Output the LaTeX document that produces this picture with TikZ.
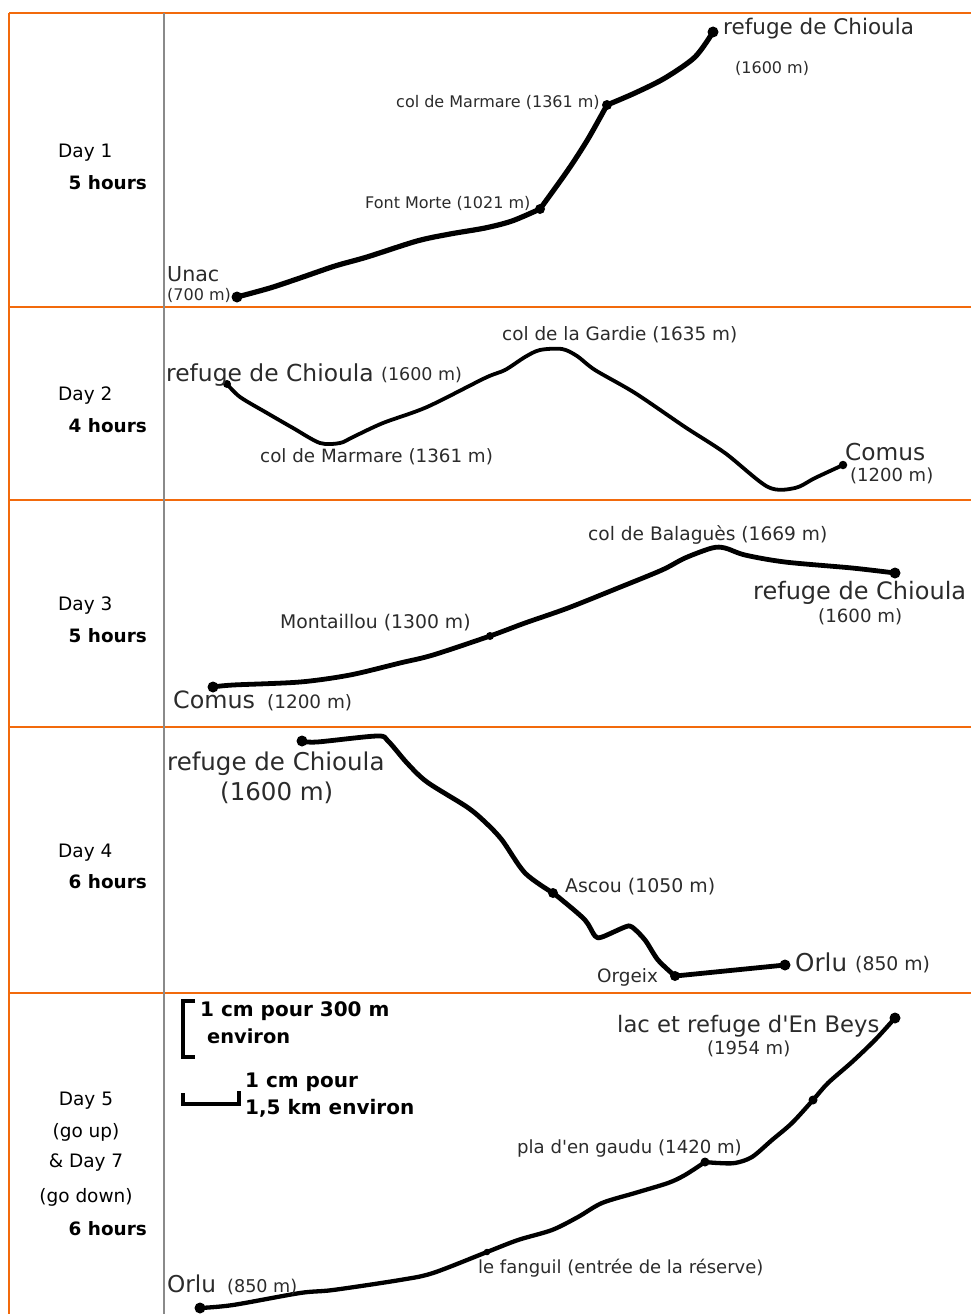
\documentclass[tikz,border=0pt]{standalone}
\usepackage{fontspec}
\setmainfont{DejaVu Sans}
\usepackage{tikz}
\usetikzlibrary{positioning}
\definecolor{rule}{HTML}{F26A0C}
\definecolor{colsep}{HTML}{8A8A8A}
\definecolor{mapink}{HTML}{2B2B2B}
\newcommand{\fs}[1]{\fontsize{#1}{#1}\selectfont}
\tikzset{
  grid/.style={draw=rule,line width=2pt},
  sep/.style={draw=colsep,line width=1.8pt},
  day/.style={inner sep=0pt,anchor=base west,font=\fs{18.5},text=black},
  hrs/.style={inner sep=0pt,anchor=base east,font=\fs{18.4}\bfseries,text=black},
  lbl/.style={inner sep=0pt,anchor=base west,text=mapink},
  spot/.style={circle,fill=black,inner sep=0pt,minimum size=#1},
  spot/.default=10pt,
  trail/.style={draw=black,line width=#1,line cap=round,line join=round},
  scl/.style={inner sep=0pt,anchor=base west,font=\fs{20}\bfseries,text=black},
}

\begin{document}
\begin{tikzpicture}[x=1pt,y=-1pt]
  \useasboundingbox (0,0) rectangle (971,1314);
  % table rules
  \foreach \y in {13,307,500,727,993} \draw[grid] (9,\y) -- (971,\y);
  \draw[grid] (9,13) -- (9,1314);
  \draw[sep] (164,13) -- (164,1314);

  % left column
  \node[day] (d1) at (58,157) {Day 1};
  \node[hrs] (h1) at (147,189) {5 hours};
  \node[day] (d2) at (58,400) {Day 2};
  \node[hrs] (h2) at (147,432) {4 hours};
  \node[day] (d3) at (58,610) {Day 3};
  \node[hrs] (h3) at (147,642) {5 hours};
  \node[day] (d4) at (58,857) {Day 4};
  \node[hrs] (h4) at (147,888) {6 hours};
  \node[day,anchor=base] (d5) at (86,1105) {Day 5};
  \node[day,anchor=base] (up5) at (86,1137) {(go up)};
  \node[day,anchor=base] (d7) at (86,1167) {\& Day 7};
  \node[day,anchor=base] (dn7) at (86,1202) {(go down)};
  \node[hrs] (h5) at (147,1235) {6 hours};

  % day 1
  \node[spot=11pt] (unac) at (237,297) {};
  \node[spot=10pt] (fontm) at (540,209) {};
  \node[spot=10pt] (marm) at (607,105) {};
  \node[spot=11pt] (chio1) at (713,32) {};
  \draw[trail=5.2pt] plot[smooth,tension=0.5] coordinates {(unac.center) (270,288) (300,278) (335,266) (367,257) (417,241) (450,234) (485,228) (512,221) (fontm.center)};
  \draw[trail=5.2pt] plot[smooth,tension=0.5] coordinates {(fontm.center) (568,170) (588,139) (marm.center)};
  \draw[trail=5.2pt] plot[smooth,tension=0.5] coordinates {(marm.center) (635,93) (665,78) (695,57) (chio1.center)};
  \node[lbl,font=\fs{20.6}] (unacN) at (167,281) {Unac};
  \node[lbl,font=\fs{16}] (unacA) at (167,300) {(700 m)};
  \node[lbl,font=\fs{16}] (fontmN) at (365,208) {Font Morte (1021 m)};
  \node[lbl,font=\fs{16}] (marmN) at (396,107) {col de Marmare (1361 m)};
  \node[lbl,font=\fs{21.5}] (chio1N) at (723,35) {refuge de Chioula};
  \node[lbl,font=\fs{16}] (chio1A) at (735,74) {(1600 m)};

  % day 2
  \node[spot=8pt] (chio2) at (227,384) {};
  \node[spot=8.5pt] (comus2) at (843,465) {};
  \draw[trail=3.8pt] plot[smooth,tension=0.5] coordinates {(chio2.center) (240,397) (267,413) (293,428) (320,443) (340,443) (353,437) (383,423) (427,407) (485,378) (505,370) (525,357) (540,350) (562,349) (577,356) (595,370) (635,393) (685,427) (725,453) (768,487) (795,488) (815,478) (comus2.center)};
  \node[lbl,font=\fs{23.4}] (chio2N) at (166,381) {refuge de Chioula};
  \node[lbl,font=\fs{17.5}] (chio2A) at (381,380) {(1600 m)};
  \node[lbl,font=\fs{18.4}] (gardN) at (502,340) {col de la Gardie (1635 m)};
  \node[lbl,font=\fs{18.3}] (marm2N) at (260,462) {col de Marmare (1361 m)};
  \node[lbl,font=\fs{23.3}] (comus2N) at (845,460) {Comus};
  \node[lbl,font=\fs{18}] (comus2A) at (850,481) {(1200 m)};

  % day 3
  \node[spot=11pt] (comus3) at (213,687) {};
  \node[spot=8pt] (mont) at (490,636) {};
  \node[spot=11pt] (chio3) at (895,573) {};
  \draw[trail=4.8pt] plot[smooth,tension=0.5] coordinates {(comus3.center) (233,685) (300,682) (350,675) (400,663) (433,655) (mont.center) (525,623) (568,608) (618,588) (662,570) (685,558) (712,548) (725,548) (745,555) (785,562) (852,568) (chio3.center)};
  \node[lbl,font=\fs{18.6}] (balaN) at (588,540) {col de Balaguès (1669 m)};
  \node[lbl,font=\fs{24}] (chio3N) at (753,599) {refuge de Chioula};
  \node[lbl,font=\fs{18.2}] (chio3A) at (818,622) {(1600 m)};
  \node[lbl,font=\fs{18.8}] (montN) at (280,628) {Montaillou (1300 m)};
  \node[lbl,font=\fs{23.8}] (comus3N) at (173,708) {Comus};
  \node[lbl,font=\fs{18.4}] (comus3A) at (267,708) {(1200 m)};

  % day 4
  \node[spot=11pt] (chio4) at (302,741) {};
  \node[spot=10pt] (ascou) at (553,893) {};
  \node[spot=10pt] (orgeix) at (675,976) {};
  \node[spot=11pt] (orlu4) at (785,965) {};
  \draw[trail=4.8pt] plot[smooth,tension=0.5] coordinates {(chio4.center) (317,742) (377,736) (388,741) (407,763) (427,782) (467,807) (485,822) (502,840) (525,873) (ascou.center)};
  \draw[trail=4.8pt] plot[smooth,tension=0.5] coordinates {(ascou.center) (562,900) (585,920) (595,936) (602,937) (625,927) (632,927) (645,940) (658,960) (orgeix.center)};
  \draw[trail=4.8pt] (orgeix.center) -- (orlu4.center);
  \node[lbl,font=\fs{24.5}] (chio4N) at (167,770) {refuge de Chioula};
  \node[lbl,font=\fs{24.5}] (chio4A) at (220,800) {(1600 m)};
  \node[lbl,font=\fs{18.9}] (ascouN) at (565,892) {Ascou (1050 m)};
  \node[lbl,font=\fs{18.4}] (orgeixN) at (597,982) {Orgeix};
  \node[lbl,font=\fs{24.6}] (orlu4N) at (795,971) {Orlu};
  \node[lbl,font=\fs{18.8}] (orlu4A) at (855,970) {(850 m)};

  % day 5 and day 7
  \draw[line width=3.2pt] (195,1001) -| (183,1057) -- (195,1057);
  \draw[line width=3.2pt] (183,1093) |- (239,1104) -- (239,1091);
  \node[scl] (vscale) at (200,1016) {1 cm pour 300 m};
  \node[scl,font=\fs{19.4}\bfseries] (vscaleB) at (207,1043) {environ};
  \node[scl] (hscale) at (245,1087) {1 cm pour};
  \node[scl] (hscaleB) at (245,1114) {1,5 km environ};

  \node[spot=11pt] (orlu5) at (200,1308) {};
  \node[spot=6.5pt] (fang) at (487,1252) {};
  \node[spot=9pt] (gaudu) at (705,1162) {};
  \node[spot=9pt] (mid) at (813,1100) {};
  \node[spot=11pt] (beys) at (895,1018) {};
  \draw[trail=4.3pt] plot[smooth,tension=0.5] coordinates {(orlu5.center) (233,1305) (300,1293) (333,1290) (400,1280) (433,1273) (fang.center) (518,1240) (552,1230) (578,1217) (602,1203) (635,1193) (668,1183) (685,1175) (gaudu.center)};
  \draw[trail=4.3pt] plot[smooth,tension=0.5] coordinates {(gaudu.center) (718,1163) (735,1163) (752,1157) (772,1140) (792,1123) (mid.center) (828,1083) (852,1062) (875,1040) (beys.center)};
  \node[lbl,font=\fs{22.7}] (beysN) at (617,1032) {lac et refuge d\textquotesingle En Beys};
  \node[lbl,font=\fs{18}] (beysA) at (707,1054) {(1954 m)};
  \node[lbl,font=\fs{18.1}] (gauduN) at (517,1153) {pla d\textquotesingle en gaudu (1420 m)};
  \node[lbl,font=\fs{18}] (fangN) at (478,1273) {le fanguil (entrée de la réserve)};
  \node[lbl,font=\fs{23.2}] (orlu5N) at (167,1292) {Orlu};
  \node[lbl,font=\fs{17.6}] (orlu5A) at (227,1292) {(850 m)};
\end{tikzpicture}
\end{document}
